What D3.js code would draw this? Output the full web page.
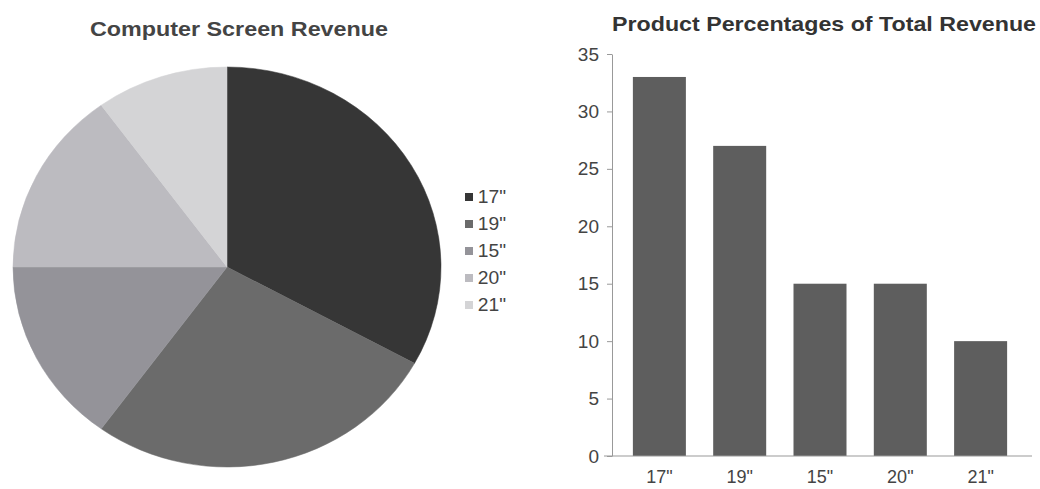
<!DOCTYPE html>
<html><head><meta charset="utf-8">
<script src="https://cdn.jsdelivr.net/npm/d3@7"></script>
<style>body{margin:0;background:#fff;} svg{display:block;font-family:"Liberation Sans",Arial,sans-serif;}</style>
</head><body>
<svg id="c" width="1040" height="489"></svg>
<script>
const categories = ['17"', '19"', '15"', '20"', '21"'];
const values = [33, 27, 15, 15, 10];
const sliceColors = ["#363636", "#6b6b6b", "#949399", "#bcbbc0", "#d4d4d6"];
const yTicks = [0, 5, 10, 15, 20, 25, 30, 35];
const pieTitle = "Computer Screen Revenue";
const barTitle = "Product Percentages of Total Revenue";

const svg = d3.select("#c");
const data = categories.map((c, i) => ({cat: c, value: values[i], color: sliceColors[i]}));

// ---- Pie ----
const r = 200;
const pieG = svg.append("g").attr("transform", "translate(227,267) scale(1.07,1)");
const pie = d3.pie().sort(null).value(d => d.value);
const arc = d3.arc().innerRadius(0).outerRadius(r);
pieG.selectAll("path").data(pie(data)).join("path")
  .attr("d", arc).attr("fill", d => d.data.color)
  .attr("stroke", d => d.data.color).attr("stroke-width", 0.5);

svg.append("text").attr("x", 239).attr("y", 36).attr("text-anchor", "middle")
  .attr("font-size", 21).attr("font-weight", "bold").attr("fill", "#444")
  .attr("textLength", 298).attr("lengthAdjust", "spacingAndGlyphs").text(pieTitle);

// Legend
const leg = svg.append("g").attr("transform", "translate(465,197)");
const legY = d3.scalePoint().domain(categories).range([0, 108]);
const li = leg.selectAll("g").data(data).join("g").attr("transform", d => `translate(0,${legY(d.cat)})`);
li.append("rect").attr("x", 0).attr("y", -4).attr("width", 8).attr("height", 8).attr("fill", d => d.color);
li.append("text").attr("x", 12).attr("y", 6).attr("font-size", 18).attr("fill", "#444")
  .attr("transform", "scale(1.07,1)").text(d => d.cat);

// ---- Bar chart ----
const x = d3.scaleBand().domain(categories).range([612, 1028]).paddingInner(0.34).paddingOuter(0.26);
const y = d3.scaleLinear().domain([0, 35]).range([456, 54]);

svg.append("text").attr("x", 824).attr("y", 31).attr("text-anchor", "middle")
  .attr("font-size", 21).attr("font-weight", "bold").attr("fill", "#333")
  .attr("textLength", 424).attr("lengthAdjust", "spacingAndGlyphs").text(barTitle);

svg.selectAll("rect.bar").data(data).join("rect").attr("class", "bar")
  .attr("x", d => x(d.cat)).attr("width", x.bandwidth())
  .attr("y", d => y(d.value)).attr("height", d => y(0) - y(d.value))
  .attr("fill", "#5e5e5e");

const yAxis = svg.append("g").attr("transform", "translate(612,0)")
  .call(d3.axisLeft(y).tickValues(yTicks).tickSize(5).tickSizeOuter(0).tickPadding(8));
yAxis.select(".domain").attr("stroke", "#999");
yAxis.selectAll(".tick line").attr("stroke", "#999");
yAxis.selectAll(".tick text").attr("font-size", 19).attr("fill", "#444").attr("font-family", "Liberation Sans, Arial, sans-serif");

const xAxis = svg.append("g").attr("transform", "translate(0,456)")
  .call(d3.axisBottom(x).tickSize(0).tickPadding(14));
xAxis.select(".domain").remove();
xAxis.selectAll(".tick text").attr("font-size", 18).attr("fill", "#444").attr("font-family", "Liberation Sans, Arial, sans-serif");
svg.append("line").attr("x1", 604).attr("x2", 1032).attr("y1", y(0)).attr("y2", y(0))
  .attr("stroke", "#999").attr("stroke-width", 1);
</script>
</body></html>
